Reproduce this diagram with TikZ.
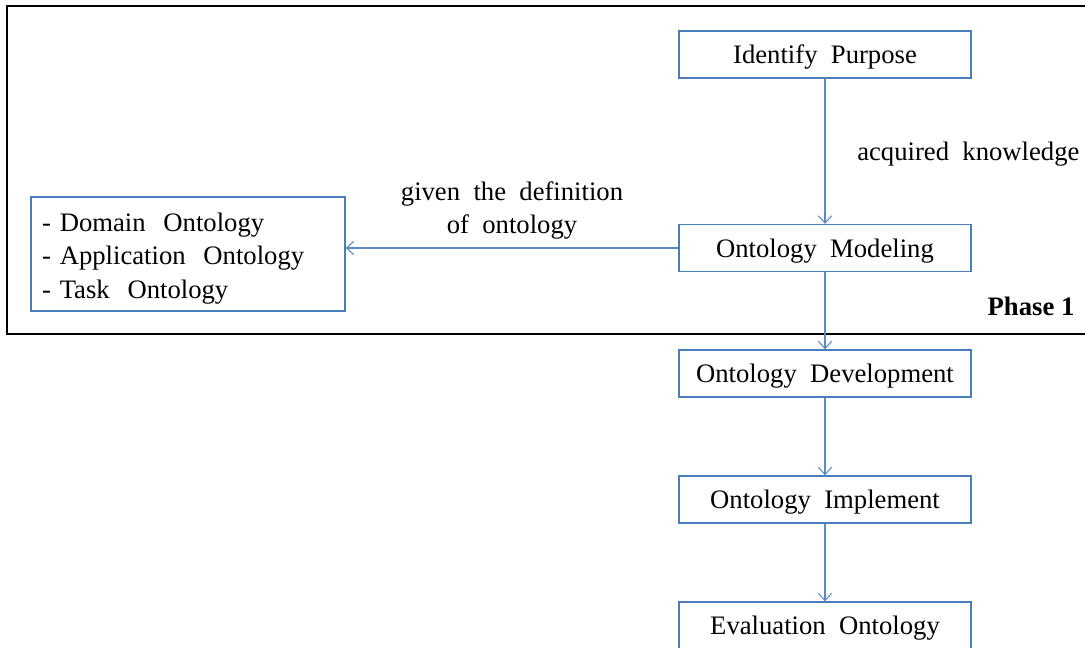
\documentclass[tikz,border=0pt]{standalone}
\usepackage{fontspec}
\setmainfont{Liberation Serif}
\usetikzlibrary{arrows.meta}
\definecolor{boxblue}{HTML}{4A7EBB}
\definecolor{arrblue}{HTML}{5B8BC7}
\tikzset{
  stepbox/.style={draw=boxblue, line width=1pt, minimum width=219pt, minimum height=35.25pt, inner sep=0pt, text height=16.5pt, text depth=2.5pt, font=\fontsize{20}{25}\selectfont},
  arr/.style={draw=arrblue, line width=0.8pt, -{Straight Barb[length=5.5pt,width=10pt]}},
  lbl/.style={font=\fontsize{20}{25}\selectfont, inner sep=0pt}
}
\begin{document}
\begin{tikzpicture}[x=0.75pt,y=-0.75pt]
\useasboundingbox (0,0) rectangle (1085,648);
\fill[white] (0,0) rectangle (1085,648);
\draw[line width=1.6pt, black] (7,6) rectangle (1100,334);
\node[stepbox] (ip) at (825,54.5) {Identify\ \ Purpose};
\node[stepbox] (om) at (825,248) {Ontology\ \ Modeling};
\node[stepbox] (od) at (825,373.5) {Ontology\ \ Development};
\node[stepbox] (oi) at (825,499.5) {Ontology\ \ Implement};
\node[stepbox] (eo) at (825,625.5) {Evaluation\ \ Ontology};
\node[draw=boxblue, line width=1pt, minimum width=235.5pt, minimum height=85.5pt, inner sep=0pt] (types) at (188,254) {};
\node[inner sep=0pt, text width=217.5pt, align=left, font=\fontsize{20}{25.3}\selectfont] (typestext) at (187,258.5) {- Domain\ \ Ontology\\- Application\ \ Ontology\\- Task\ \ Ontology};
\node[lbl, anchor=west] (ak) at (857,154) {acquired\ \ knowledge};
\node[lbl, align=center] (gd) at (512,210.5) {given\ \ the\ \ definition\\of\ \ ontology};
\node[lbl, font=\fontsize{20}{25}\selectfont\bfseries] (ph) at (1031,306) {Phase 1};
\draw[arr] (ip) -- (om);
\draw[arr] (om.west) -- (om.west -| types.east);
\draw[arr] (om) -- (od);
\draw[arr] (od) -- (oi);
\draw[arr] (oi) -- (eo);
\end{tikzpicture}
\end{document}
